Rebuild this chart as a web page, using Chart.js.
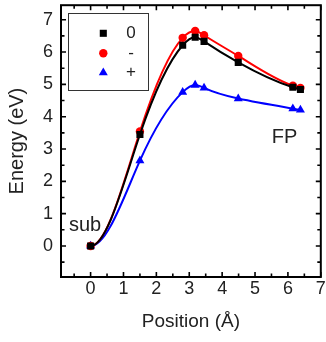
<!DOCTYPE html>
<html><head><meta charset="utf-8">
<script src="https://cdn.jsdelivr.net/npm/chart.js@4/dist/chart.umd.min.js"></script>
<style>html,body{margin:0;padding:0;background:#fff;overflow:hidden}</style>
</head><body>
<canvas id="c" width="326" height="342" style="width:326px;height:342px;display:block"></canvas>
<script>
// ---- data ----
const positions     = [0, 1.5, 2.8, 3.18, 3.45, 4.49, 6.15, 6.38];
const energyNeutral = [0, 3.45, 6.21, 6.46, 6.33, 5.68, 4.91, 4.84];
const energyMinus   = [0, 3.54, 6.44, 6.65, 6.52, 5.88, 4.96, 4.89];
const energyPlus    = [0, 2.64, 4.76, 4.98, 4.89, 4.56, 4.25, 4.21];
const seriesLabels  = ['0', '-', '+'];
const xTickValues   = [0, 1, 2, 3, 4, 5, 6, 7];
const yTickValues   = [0, 1, 2, 3, 4, 5, 6, 7];
const annotations   = [{text: 'sub', x: -0.17, y: 0.63}, {text: 'FP', x: 5.9, y: 3.36}];

const FONT = "'Liberation Sans', Arial, sans-serif";
const TXT = '#222';

function pts(ys) { return positions.map((x, i) => ({x: x, y: ys[i]})); }

const styles = [
  {color: '#000000', pointStyle: 'rect', radius: 5},
  {color: '#ff0000', pointStyle: 'circle', radius: 4.2},
  {color: '#0000ff', pointStyle: 'triangle', radius: 5.2}
];
const seriesValues = [energyNeutral, energyMinus, energyPlus];

const datasets = seriesValues.map((vals, i) => ({
  label: seriesLabels[i],
  data: pts(vals),
  showLine: true,
  borderColor: styles[i].color,
  backgroundColor: styles[i].color,
  pointBackgroundColor: styles[i].color,
  pointBorderColor: styles[i].color,
  pointBorderWidth: 0,
  pointStyle: styles[i].pointStyle,
  pointRadius: styles[i].radius,
  borderWidth: 2,
  tension: 0.4
}));

// Smooth spline (zero slope at start, natural end) applied as the line's
// Bezier control points, computed from the library-positioned point elements.
function solve(A, b) {
  const n = b.length;
  for (let i = 0; i < n; i++) {
    let p = i;
    for (let r = i + 1; r < n; r++) if (Math.abs(A[r][i]) > Math.abs(A[p][i])) p = r;
    [A[i], A[p]] = [A[p], A[i]]; [b[i], b[p]] = [b[p], b[i]];
    for (let r = i + 1; r < n; r++) {
      const f = A[r][i] / A[i][i];
      for (let c = i; c < n; c++) A[r][c] -= f * A[i][c];
      b[r] -= f * b[i];
    }
  }
  const x = new Array(n).fill(0);
  for (let i = n - 1; i >= 0; i--) {
    let s = b[i];
    for (let c = i + 1; c < n; c++) s -= A[i][c] * x[c];
    x[i] = s / A[i][i];
  }
  return x;
}
const splinePlugin = {
  id: 'spline',
  beforeDatasetsDraw(chart) {
    chart.getSortedVisibleDatasetMetas().forEach(meta => {
      const P = meta.data;
      const n = P.length;
      if (n < 3) return;
      const X = P.map(p => p.x), Y = P.map(p => p.y);
      const h = [], d = [];
      for (let i = 0; i < n - 1; i++) { h.push(X[i + 1] - X[i]); d.push((Y[i + 1] - Y[i]) / h[i]); }
      const A = Array.from({length: n}, () => new Array(n).fill(0));
      const b = new Array(n).fill(0);
      A[0][0] = 1; b[0] = 0;
      for (let i = 1; i < n - 1; i++) {
        A[i][i - 1] = h[i];
        A[i][i] = 2 * (h[i - 1] + h[i]);
        A[i][i + 1] = h[i - 1];
        b[i] = 3 * (h[i] * d[i - 1] + h[i - 1] * d[i]);
      }
      A[n - 1][n - 2] = 1; A[n - 1][n - 1] = 2; b[n - 1] = 3 * d[n - 2];
      const m = solve(A, b);
      for (let i = 0; i < n; i++) {
        const hp = i > 0 ? h[i - 1] : 0, hn = i < n - 1 ? h[i] : 0;
        P[i].cp1x = X[i] - hp / 3; P[i].cp1y = Y[i] - m[i] * hp / 3;
        P[i].cp2x = X[i] + hn / 3; P[i].cp2y = Y[i] + m[i] * hn / 3;
      }
      if (meta.dataset) { meta.dataset._pointsUpdated = true; meta.dataset._path = undefined; }
    });
  }
};

const framePlugin = {
  id: 'frame',
  afterDraw(chart) {
    const ctx = chart.ctx, a = chart.chartArea;
    const xs = chart.scales.x, ys = chart.scales.y;
    ctx.save();
    ctx.strokeStyle = '#000';
    ctx.lineWidth = 1.6;
    for (let v = -0.5; v <= 7.001; v += 0.5) {
      const px = xs.getPixelForValue(v);
      if (px < a.left + 1 || px > a.right + 0.5) continue;
      const len = Number.isInteger(v) ? 5 : 3.5;
      ctx.beginPath();
      ctx.moveTo(px, a.bottom); ctx.lineTo(px, a.bottom - len);
      ctx.moveTo(px, a.top); ctx.lineTo(px, a.top + len);
      ctx.stroke();
    }
    for (let v = -0.5; v <= 7.5; v += 0.5) {
      const py = ys.getPixelForValue(v);
      if (py > a.bottom - 1 || py < a.top + 1) continue;
      const len = Number.isInteger(v) ? 5 : 3.5;
      ctx.beginPath();
      ctx.moveTo(a.left, py); ctx.lineTo(a.left + len, py);
      ctx.moveTo(a.right, py); ctx.lineTo(a.right - len, py);
      ctx.stroke();
    }
    ctx.lineWidth = 2;
    ctx.strokeRect(a.left, a.top, a.right - a.left, a.bottom - a.top);

    ctx.fillStyle = TXT;
    ctx.font = '20px ' + FONT;
    ctx.textAlign = 'center';
    ctx.textBaseline = 'middle';
    annotations.forEach(t => ctx.fillText(t.text, xs.getPixelForValue(t.x), ys.getPixelForValue(t.y)));

    const bx = 68.5, by = 13.5, bw = 80, bh = 77;
    ctx.lineWidth = 1;
    ctx.strokeStyle = '#333';
    ctx.strokeRect(bx, by, bw, bh);
    const rows = [33.3, 53.3, 72.7];
    chart.data.datasets.forEach((ds, i) => {
      ctx.fillStyle = ds.backgroundColor;
      ctx.strokeStyle = ds.borderColor;
      Chart.helpers.drawPoint(ctx, {pointStyle: ds.pointStyle, radius: ds.pointRadius, borderWidth: 0, rotation: 0}, 103.3, rows[i]);
      ctx.fillStyle = TXT;
      ctx.font = '17px ' + FONT;
      ctx.textAlign = 'center';
      ctx.textBaseline = 'middle';
      ctx.fillText(ds.label, 131, rows[i]);
    });
    ctx.restore();
  }
};

new Chart(document.getElementById('c'), {
  type: 'scatter',
  data: {datasets: datasets},
  plugins: [splinePlugin, framePlugin],
  options: {
    responsive: false,
    animation: false,
    devicePixelRatio: 1,
    layout: {padding: {top: 2, right: 4, left: 0, bottom: 0}},
    plugins: {legend: {display: false}, tooltip: {enabled: false}},
    scales: {
      x: {
        type: 'linear', min: -0.9, max: 7,
        afterBuildTicks: s => { s.ticks = xTickValues.map(v => ({value: v})); },
        afterFit: s => { s.height = 65; s.paddingLeft = 0; s.paddingRight = 0; },
        grid: {display: false, drawTicks: false},
        border: {display: false},
        ticks: {padding: 1, autoSkip: false, maxRotation: 0, color: TXT, font: {family: FONT, size: 18}},
        title: {display: true, text: 'Position (Å)', color: TXT, font: {family: FONT, size: 19}, padding: {top: 0, bottom: 9}}
      },
      y: {
        type: 'linear', min: -0.96, max: 7.45,
        afterBuildTicks: s => { s.ticks = yTickValues.map(v => ({value: v})); },
        afterFit: s => { s.width = 61; s.paddingTop = 0; s.paddingBottom = 0; },
        grid: {display: false, drawTicks: false},
        border: {display: false},
        ticks: {padding: 8, autoSkip: false, color: TXT, font: {family: FONT, size: 18}},
        title: {display: true, text: 'Energy (eV)', color: TXT, font: {family: FONT, size: 20}, padding: {top: 5, bottom: 0}}
      }
    }
  }
});
</script>
</body></html>
